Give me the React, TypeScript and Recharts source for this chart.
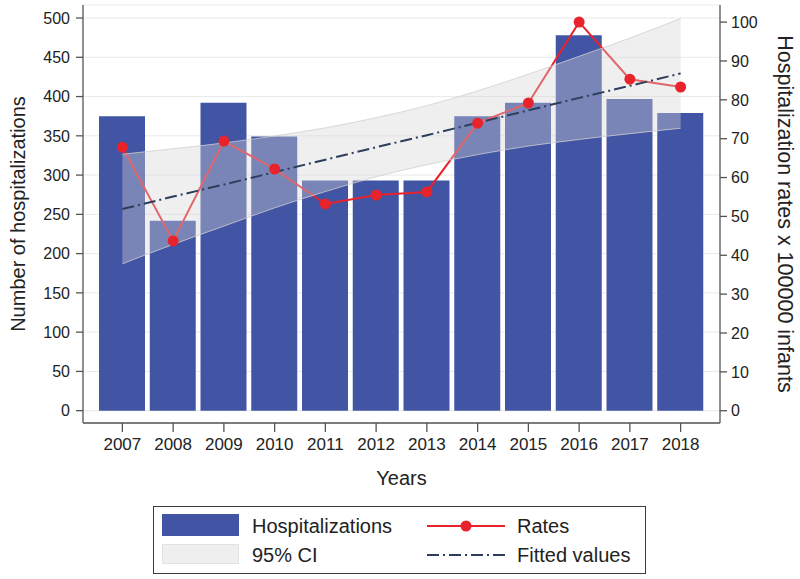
import React from 'react';
import { ComposedChart, Bar, Line, Area, XAxis, YAxis, CartesianGrid } from 'recharts';

const years = ['2007', '2008', '2009', '2010', '2011', '2012', '2013', '2014', '2015', '2016', '2017', '2018'];
const hospitalizations = [375, 242, 392, 349, 293, 293, 293, 375, 392, 478, 397, 379];
const rates = [67.8, 43.7, 69.4, 62.2, 53.2, 55.5, 56.3, 74.0, 79.2, 100.0, 85.3, 83.3];
const fittedValues = [51.9, 55.1, 58.2, 61.4, 64.6, 67.8, 70.9, 74.1, 77.3, 80.5, 83.6, 86.8];
const ciLower = [37.8, 42.8, 47.5, 52.2, 56.4, 60.2, 63.3, 65.9, 68.1, 69.8, 71.3, 72.7];
const ciUpper = [66.0, 67.4, 68.9, 70.7, 72.8, 75.4, 78.5, 82.3, 86.6, 91.2, 95.9, 100.9];
const leftTicks = [0, 50, 100, 150, 200, 250, 300, 350, 400, 450, 500];
const rightTicks = [0, 10, 20, 30, 40, 50, 60, 70, 80, 90, 100];

const data = years.map((year, i) => ({
  year,
  hosp: hospitalizations[i],
  rate: rates[i],
  fit: fittedValues[i],
  ci: [ciLower[i], ciUpper[i]],
}));

const BAR = '#4254a4';
const RED = '#e8232b';
const FIT = '#2c3e5c';
const AXIS = '#555555';
const FONT = '"Liberation Sans", Arial, sans-serif';
const TEXT = '#222222';

const tickStyle = { fontSize: 16, fill: TEXT, fontFamily: FONT };

const legendText: React.CSSProperties = {
  position: 'absolute',
  height: 24,
  lineHeight: '24px',
  fontSize: 20,
  color: TEXT,
  fontFamily: FONT,
  whiteSpace: 'nowrap',
};

function ChartLegend() {
  return (
    <div
      style={{
        position: 'absolute',
        left: 153,
        top: 506,
        width: 493,
        height: 68,
        border: '1.5px solid #3a3a3a',
        boxSizing: 'border-box',
        background: '#fff',
      }}
    >
      <div style={{ position: 'absolute', left: 8, top: 7, width: 77, height: 22, background: BAR }} />
      <div style={{ ...legendText, left: 98, top: 7 }}>Hospitalizations</div>
      <div
        style={{
          position: 'absolute',
          left: 8,
          top: 37,
          width: 77,
          height: 20,
          background: '#efefef',
          border: '1px solid #e2e2e2',
          boxSizing: 'border-box',
        }}
      />
      <div style={{ ...legendText, left: 98, top: 36 }}>95% CI</div>
      <svg style={{ position: 'absolute', left: 273, top: 6, overflow: 'visible' }} width={78} height={56}>
        <line x1={0} y1={13} x2={78} y2={13} stroke={RED} strokeWidth={2} />
        <circle cx={39} cy={13} r={5.5} fill={RED} />
        <line x1={0} y1={42} x2={78} y2={42} stroke={FIT} strokeWidth={2} strokeDasharray="12 4 2 4" />
      </svg>
      <div style={{ ...legendText, left: 363, top: 7 }}>Rates</div>
      <div style={{ ...legendText, left: 363, top: 36 }}>Fitted values</div>
    </div>
  );
}

export default function App() {
  return (
    <div style={{ position: 'absolute', left: 0, top: 0, width: 800, height: 579, background: '#fff' }}>
      <ComposedChart width={800} height={579} data={data} margin={{ top: 5, right: 0, bottom: 86, left: 0 }}>
        <CartesianGrid yAxisId="left" vertical={false} stroke="#e9e9e9" strokeWidth={1} />
        <XAxis
          dataKey="year"
          height={70}
          padding={{ left: 14, right: 14 }}
          tick={{ ...tickStyle, fontSize: 17 }}
          tickSize={9}
          tickMargin={6}
          stroke={AXIS}
          strokeWidth={1.3}
          tickLine={{ stroke: AXIS, strokeWidth: 1.3 }}
          label={{ value: 'Years', position: 'insideBottom', offset: 8, style: { fontSize: 20, fill: TEXT, fontFamily: FONT } }}
        />
        <YAxis
          yAxisId="left"
          orientation="left"
          width={83}
          domain={[-15.7, 516.6]}
          ticks={leftTicks}
          allowDataOverflow
          tick={tickStyle}
          tickSize={7}
          tickMargin={6}
          stroke={AXIS}
          strokeWidth={1.3}
          label={{
            value: 'Number of hospitalizations',
            angle: -90,
            position: 'center',
            dx: -24,
            style: { fontSize: 20, fill: TEXT, fontFamily: FONT, textAnchor: 'middle' },
          }}
        />
        <YAxis
          yAxisId="right"
          orientation="right"
          width={80}
          domain={[-3.16, 104.4]}
          ticks={rightTicks}
          allowDataOverflow
          tick={tickStyle}
          tickSize={7}
          tickMargin={4}
          stroke={AXIS}
          strokeWidth={1.3}
          label={{
            value: 'Hospitalization rates x 100000 infants',
            angle: 90,
            position: 'center',
            dx: 26,
            style: { fontSize: 21.5, fill: TEXT, fontFamily: FONT, textAnchor: 'middle' },
          }}
        />
        <Bar yAxisId="left" dataKey="hosp" fill={BAR} barSize={46} isAnimationActive={false} />
        <Line
          yAxisId="right"
          dataKey="rate"
          type="linear"
          stroke={RED}
          strokeWidth={2}
          dot={{ r: 5.5, fill: RED, stroke: RED, strokeWidth: 0 }}
          activeDot={false}
          isAnimationActive={false}
        />
        <Area
          yAxisId="right"
          dataKey="ci"
          type="monotone"
          fill="#d6d6d6"
          fillOpacity={0.38}
          stroke="#d0d0d0"
          strokeOpacity={0.8}
          strokeWidth={1}
          activeDot={false}
          isAnimationActive={false}
          {...({ zIndex: 450 } as any)}
        />
        <Line
          yAxisId="right"
          dataKey="fit"
          type="linear"
          stroke={FIT}
          strokeWidth={2}
          strokeDasharray="12 4 2 4"
          dot={false}
          activeDot={false}
          isAnimationActive={false}
          {...({ zIndex: 460 } as any)}
        />
      </ComposedChart>
      <ChartLegend />
    </div>
  );
}
